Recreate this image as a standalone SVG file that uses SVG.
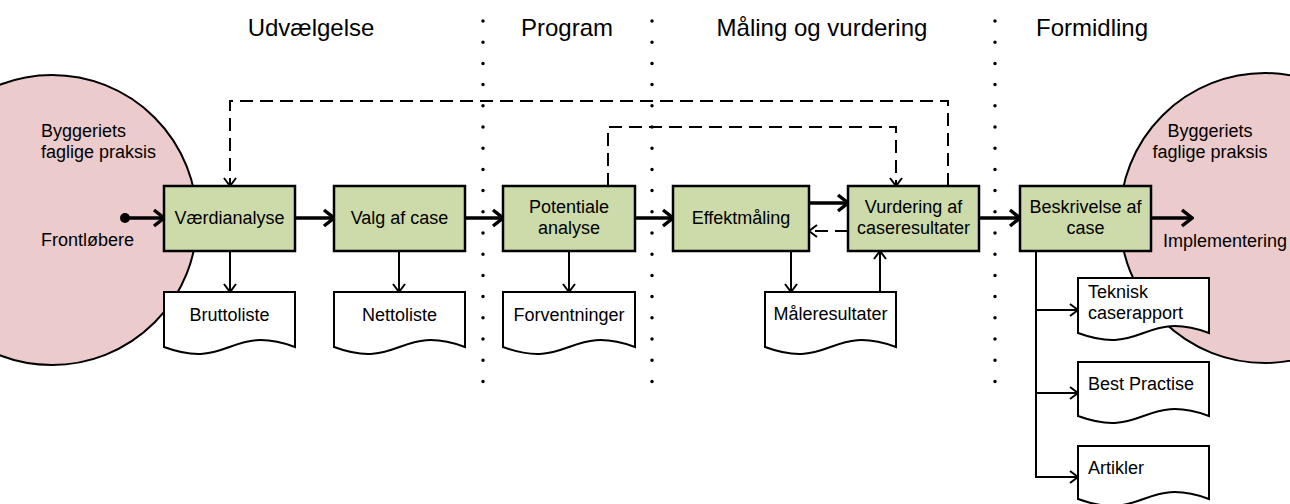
<svg xmlns="http://www.w3.org/2000/svg" width="1290" height="504" viewBox="0 0 1290 504">
<defs>
<style>
text{font-family:"Liberation Sans",Arial,sans-serif;fill:#000}
.hdr{font-size:24px;text-anchor:middle}
.lbl{font-size:18px}
.c{text-anchor:middle}
.box{fill:#CDDBAA;stroke:#000;stroke-width:2.5}
.doc{fill:#fff;stroke:#000;stroke-width:2}
.circ{fill:#EBCBCB;stroke:#000;stroke-width:2}
.dots{stroke:#000;stroke-width:3.5;stroke-linecap:round;stroke-dasharray:0 21.2;fill:none}
.thick{stroke:#000;stroke-width:3.5;fill:none;marker-end:url(#ahT)}
.thin{stroke:#000;stroke-width:2;fill:none;marker-end:url(#ah)}
.dash{stroke:#000;stroke-width:2;fill:none;stroke-dasharray:13 7}
</style>
<marker id="ahT" markerUnits="userSpaceOnUse" viewBox="0 0 14 20" markerWidth="14" markerHeight="20" refX="12" refY="10" orient="auto">
<path d="M2,2 L12,10 L2,18" fill="none" stroke="#000" stroke-width="3.5"/>
</marker>
<marker id="ah" markerUnits="userSpaceOnUse" viewBox="0 0 10 14" markerWidth="10" markerHeight="14" refX="9" refY="7" orient="auto">
<path d="M1,1 L9,7 L1,13" fill="none" stroke="#000" stroke-width="2"/>
</marker>
</defs>

<g id="practice-left">
<circle class="circ" cx="52" cy="220" r="145"/>
<text class="lbl" x="41" y="137">Byggeriets</text>
<text class="lbl" x="41" y="158">faglige praksis</text>
<text class="lbl" x="41" y="246">Frontløbere</text>
</g>
<g id="practice-right">
<circle class="circ" cx="1265" cy="218" r="145"/>
<text class="lbl c" x="1210" y="137">Byggeriets</text>
<text class="lbl c" x="1210" y="158">faglige praksis</text>
<text class="lbl" x="1163" y="247">Implementering</text>
</g>

<g id="phase-dividers">
<line class="dots" x1="483" y1="21" x2="483" y2="382"/>
<line class="dots" x1="652" y1="21" x2="652" y2="382"/>
<line class="dots" x1="995" y1="21" x2="995" y2="382"/>
</g>
<g id="phase-headers">
<text class="hdr" x="311" y="36">Udvælgelse</text>
<text class="hdr" x="567" y="36">Program</text>
<text class="hdr" x="822" y="36">Måling og vurdering</text>
<text class="hdr" x="1092" y="36">Formidling</text>
</g>

<g id="connectors">
<circle cx="125" cy="218" r="5" fill="#000"/>
<line class="thick" x1="125" y1="218" x2="164" y2="218"/>
<line class="thick" x1="295" y1="218" x2="334" y2="218"/>
<line class="thick" x1="465" y1="218" x2="503" y2="218"/>
<line class="thick" x1="635" y1="218" x2="673" y2="218"/>
<line class="thick" x1="809" y1="203" x2="848" y2="203"/>
<line class="thick" x1="979" y1="218" x2="1020" y2="218"/>
<line class="thick" x1="1151" y1="218" x2="1192" y2="218"/>
<line class="dash" x1="848" y1="231" x2="809" y2="231" marker-end="url(#ah)"/>
<path class="dash" d="M948,186 V101 H230 V186" marker-end="url(#ah)"/>
<path class="dash" d="M608,186 V127 H896 V186" marker-end="url(#ah)"/>
<line class="thin" x1="230" y1="251" x2="230" y2="292"/>
<line class="thin" x1="399" y1="251" x2="399" y2="292"/>
<line class="thin" x1="569" y1="251" x2="569" y2="292"/>
<line class="thin" x1="791" y1="251" x2="791" y2="292"/>
<line class="thin" x1="880" y1="292" x2="880" y2="251"/>
<path class="thin" d="M1036,251 V477 H1078"/>
<line class="thin" x1="1036" y1="310" x2="1078" y2="310"/>
<line class="thin" x1="1036" y1="393" x2="1078" y2="393"/>
</g>

<g id="vaerdianalyse">
<rect class="box" x="164" y="186" width="131" height="65"/>
<text class="lbl c" x="229.5" y="224">Værdianalyse</text>
</g>
<g id="valg-af-case">
<rect class="box" x="334" y="186" width="131" height="65"/>
<text class="lbl c" x="399.5" y="224">Valg af case</text>
</g>
<g id="potentiale-analyse">
<rect class="box" x="503" y="186" width="132" height="65"/>
<text class="lbl c" x="569" y="213">Potentiale</text>
<text class="lbl c" x="569" y="234">analyse</text>
</g>
<g id="effektmaaling">
<rect class="box" x="673" y="186" width="136" height="65"/>
<text class="lbl c" x="741" y="224">Effektmåling</text>
</g>
<g id="vurdering">
<rect class="box" x="848" y="186" width="131" height="65"/>
<text class="lbl c" x="913.5" y="213">Vurdering af</text>
<text class="lbl c" x="913.5" y="234">caseresultater</text>
</g>
<g id="beskrivelse">
<rect class="box" x="1020" y="186" width="131" height="65"/>
<text class="lbl c" x="1085.5" y="213">Beskrivelse af</text>
<text class="lbl c" x="1085.5" y="234">case</text>
</g>

<g id="bruttoliste">
<path class="doc" d="M164,292 H295 V347 C229.5,323 229.5,371 164,347 Z"/>
<text class="lbl c" x="229.5" y="321">Bruttoliste</text>
</g>
<g id="nettoliste">
<path class="doc" d="M334,292 H465 V347 C399.5,323 399.5,371 334,347 Z"/>
<text class="lbl c" x="399.5" y="321">Nettoliste</text>
</g>
<g id="forventninger">
<path class="doc" d="M503,292 H635 V347 C569,323 569,371 503,347 Z"/>
<text class="lbl c" x="569" y="321">Forventninger</text>
</g>
<g id="maaleresultater">
<path class="doc" d="M765,292 H896 V347 C830.5,323 830.5,371 765,347 Z"/>
<text class="lbl c" x="830.5" y="320">Måleresultater</text>
</g>
<g id="teknisk-caserapport">
<path class="doc" d="M1078,278 H1209 V333 C1143.5,309 1143.5,357 1078,333 Z"/>
<text class="lbl" x="1088" y="298">Teknisk</text>
<text class="lbl" x="1088" y="319">caserapport</text>
</g>
<g id="best-practise">
<path class="doc" d="M1078,362 H1209 V416 C1143.5,392 1143.5,440 1078,416 Z"/>
<text class="lbl" x="1088" y="390">Best Practise</text>
</g>
<g id="artikler">
<path class="doc" d="M1078,446 H1209 V499 C1143.5,475 1143.5,523 1078,499 Z"/>
<text class="lbl" x="1088" y="474">Artikler</text>
</g>
</svg>
